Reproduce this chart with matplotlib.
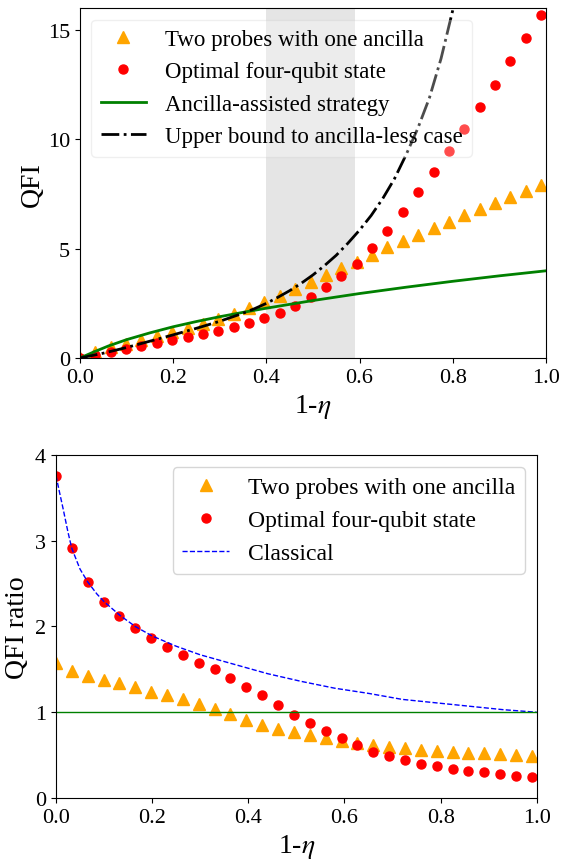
import matplotlib
matplotlib.use("Agg")
import matplotlib.pyplot as plt

plt.rcParams['font.family'] = ['Liberation Serif', 'DejaVu Serif']
plt.rcParams['mathtext.fontset'] = 'stix'

# ---------------- data ----------------
eta_grid = [0.000, 0.033, 0.066, 0.099, 0.132, 0.165, 0.198, 0.231, 0.264, 0.297,
            0.330, 0.363, 0.396, 0.429, 0.462, 0.495, 0.528, 0.561, 0.594, 0.627,
            0.660, 0.693, 0.726, 0.759, 0.792, 0.825, 0.858, 0.891, 0.924, 0.957, 0.990]

qfi_two_probes = [0.0, 0.26, 0.49, 0.64, 0.84, 0.99, 1.18, 1.37, 1.55, 1.78, 2.02,
                  2.27, 2.56, 2.86, 3.17, 3.49, 3.82, 4.13, 4.40, 4.71, 5.06, 5.34,
                  5.64, 5.94, 6.23, 6.54, 6.81, 7.10, 7.36, 7.64, 7.91]
qfi_optimal = [0.0, 0.13, 0.26, 0.40, 0.53, 0.67, 0.82, 0.96, 1.10, 1.25, 1.40,
               1.61, 1.81, 2.07, 2.39, 2.80, 3.25, 3.74, 4.30, 5.02, 5.79, 6.66,
               7.58, 8.52, 9.48, 10.50, 11.49, 12.51, 13.57, 14.62, 15.68]

ancilla_x = [0.0, 0.015, 0.03, 0.061, 0.1, 0.15, 0.2, 0.25, 0.3, 0.35, 0.4, 0.5,
             0.6, 0.7, 0.8, 0.9, 1.0]
ancilla_y = [0.0, 0.14, 0.28, 0.55, 0.84, 1.15, 1.43, 1.67, 1.89, 2.09, 2.28, 2.63,
             2.95, 3.24, 3.51, 3.76, 3.99]

bound_x = [0.0, 0.05, 0.1, 0.15, 0.2, 0.25, 0.3, 0.35, 0.375, 0.4, 0.425, 0.45,
           0.475, 0.5, 0.525, 0.55, 0.575, 0.6, 0.625, 0.65, 0.675, 0.7, 0.725,
           0.75, 0.775, 0.8, 0.81]
bound_y = [0.0, 0.22, 0.48, 0.77, 1.06, 1.36, 1.68, 2.05, 2.26, 2.50, 2.78, 3.08,
           3.42, 3.80, 4.23, 4.70, 5.25, 5.85, 6.52, 7.30, 8.20, 9.30, 10.50,
           11.90, 13.70, 15.90, 17.00]

ratio_two_probes = [1.58, 1.48, 1.42, 1.38, 1.34, 1.29, 1.24, 1.20, 1.15, 1.10, 1.04,
                    0.98, 0.91, 0.85, 0.80, 0.77, 0.73, 0.70, 0.67, 0.64, 0.62, 0.60,
                    0.58, 0.56, 0.55, 0.54, 0.52, 0.52, 0.51, 0.50, 0.49]
ratio_optimal = [3.76, 2.91, 2.52, 2.29, 2.12, 1.98, 1.87, 1.76, 1.67, 1.58, 1.50,
                 1.40, 1.30, 1.20, 1.08, 0.97, 0.87, 0.78, 0.70, 0.62, 0.54, 0.49,
                 0.44, 0.40, 0.37, 0.34, 0.31, 0.30, 0.28, 0.26, 0.25]

classical_x = [0.0, 0.008, 0.015, 0.025, 0.033, 0.05, 0.066, 0.085, 0.1, 0.133, 0.165,
               0.2, 0.25, 0.3, 0.37, 0.44, 0.51, 0.58, 0.65, 0.72, 0.79, 0.86, 0.93, 1.0]
classical_y = [3.76, 3.55, 3.37, 3.10, 2.91, 2.67, 2.52, 2.38, 2.29, 2.13, 2.00,
               1.89, 1.77, 1.67, 1.56, 1.45, 1.36, 1.28, 1.22, 1.15, 1.11, 1.07, 1.03, 1.0]

shade_range = (0.4, 0.59)

labels_top = ['Two probes with one ancilla', 'Optimal four-qubit state',
              'Ancilla-assisted strategy', 'Upper bound to ancilla-less case']
labels_bottom = ['Two probes with one ancilla', 'Optimal four-qubit state', 'Classical']

# ---------------- figure ----------------
fig = plt.figure(figsize=(5.71, 8.62), dpi=100)
ax1 = fig.add_axes([0.140, 0.5835, 0.816, 0.4057])
ax2 = fig.add_axes([0.098, 0.0731, 0.842, 0.3979])

# top panel
ax1.axvspan(shade_range[0], shade_range[1], color='gray', alpha=0.2, lw=0)
ax1.plot(eta_grid, qfi_two_probes, '^', color='orange', ms=8, ls='none', label=labels_top[0])
ax1.plot(eta_grid, qfi_optimal, 'o', color='red', ms=6.5, ls='none', label=labels_top[1])
ax1.plot(ancilla_x, ancilla_y, '-', color='green', lw=2, label=labels_top[2])
ax1.plot(bound_x, bound_y, '-.', color='black', lw=2, label=labels_top[3])
ax1.set_xlim(0, 1)
ax1.set_ylim(0, 16)
ax1.set_yticks([0, 5, 10, 15])
ax1.set_xticks([0.0, 0.2, 0.4, 0.6, 0.8, 1.0])
ax1.set_xlabel('1-$\\eta$', fontsize=20)
ax1.set_ylabel('QFI', fontsize=20, labelpad=2)
ax1.tick_params(labelsize=16)
ax1.legend(loc='upper left', fontsize=16.5, framealpha=0.3)

# bottom panel
ax2.plot(eta_grid, ratio_two_probes, '^', color='orange', ms=8, ls='none', label=labels_bottom[0])
ax2.plot(eta_grid, ratio_optimal, 'o', color='red', ms=6.5, ls='none', label=labels_bottom[1])
ax2.plot(classical_x, classical_y, '--', color='blue', lw=1, label=labels_bottom[2])
ax2.axhline(1.0, color='green', lw=1)
ax2.set_xlim(0, 1)
ax2.set_ylim(0, 4)
ax2.set_yticks([0, 1, 2, 3, 4])
ax2.set_xticks([0.0, 0.2, 0.4, 0.6, 0.8, 1.0])
ax2.set_xlabel('1-$\\eta$', fontsize=20)
ax2.set_ylabel('QFI ratio', fontsize=20)
ax2.tick_params(labelsize=16)
ax2.legend(loc='upper right', fontsize=17)

fig.savefig('out.png', dpi=100)
